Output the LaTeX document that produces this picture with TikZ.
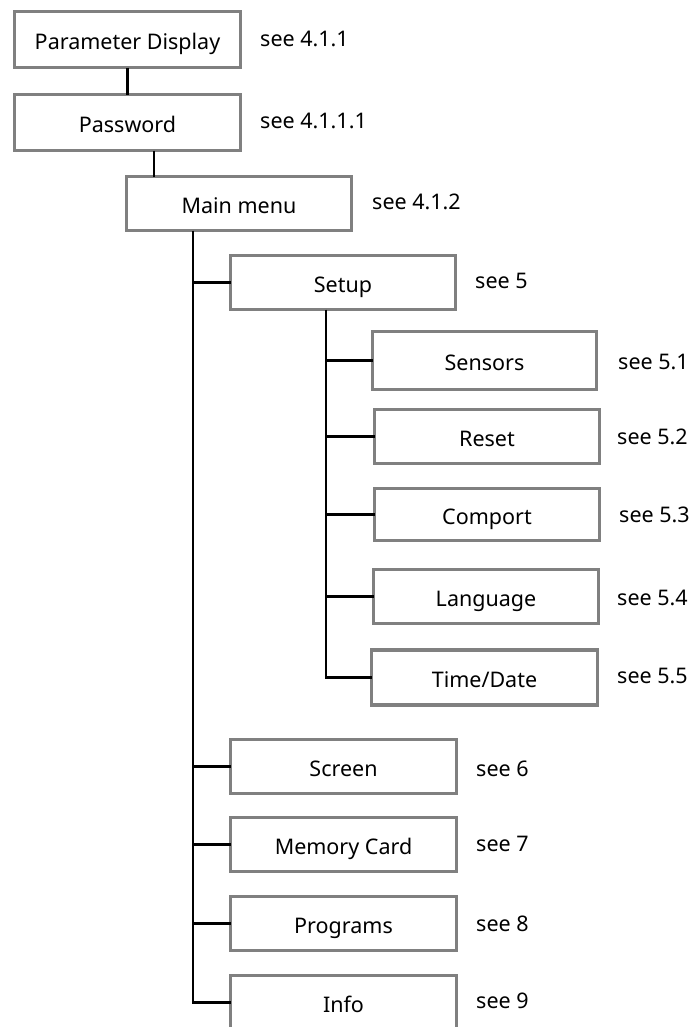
\documentclass[tikz,border=0pt]{standalone}
\usepackage{fontspec}
\setmainfont{Noto Sans}
\begin{document}
\begin{tikzpicture}[x=1bp,y=-1bp,
  box/.style={draw=boxgray,line width=3.2bp,fill=white,outer sep=0pt,inner sep=0pt,
    minimum width=#1,minimum height=54bp,text height=20bp,text depth=0bp,
    font=\fontsize{21.5bp}{25bp}\selectfont},
  box/.default=226bp,
  lbl/.style={anchor=base west,inner sep=0pt,font=\fontsize{21.5bp}{25bp}\selectfont},
  conn/.style={draw=black,line width=2.2bp}]
\definecolor{boxgray}{HTML}{808080}
\useasboundingbox (0,0) rectangle (691,1027);
\clip (0,0) rectangle (691,1027);
% boxes
\node[box, minimum height=56bp] (pd) at (127.5,39.5) {Parameter Display};
\node[box, minimum height=56bp] (pw) at (127.5,122.5) {Password};
\node[box=225bp] (mm) at (239,203.5) {Main menu};
\node[box=225bp] (setup) at (343,282.5) {Setup};
\node[box=224bp, minimum height=58bp] (sensors) at (484.5,360.5) {Sensors};
\node[box=225bp] (reset) at (487,436.5) {Reset};
\node[box=225bp, minimum height=52bp] (comport) at (487,514.5) {Comport};
\node[box=225bp] (language) at (486,596.5) {Language};
\node[box, minimum height=55bp] (timedate) at (484.5,677.5) {Time/Date};
\node[box] (screen) at (343.5,766.5) {Screen};
\node[box] (memory) at (343.5,844.5) {Memory Card};
\node[box] (programs) at (343.5,923.5) {Programs};
\node[box] (info) at (343.5,1002.5) {Info};
% labels
\node[lbl] (l1) at (260,46) {see 4.1.1};
\node[lbl] (l2) at (260,128) {see 4.1.1.1};
\node[lbl] (l3) at (372,209) {see 4.1.2};
\node[lbl] (l4) at (475,288) {see 5};
\node[lbl] (l5) at (618,369) {see 5.1};
\node[lbl] (l6) at (617,444) {see 5.2};
\node[lbl] (l7) at (619,522) {see 5.3};
\node[lbl] (l8) at (617,605) {see 5.4};
\node[lbl] (l9) at (617,683) {see 5.5};
\node[lbl] (l10) at (476,776) {see 6};
\node[lbl] (l11) at (476,851) {see 7};
\node[lbl] (l12) at (476,931) {see 8};
\node[lbl] (l13) at (476,1008) {see 9};
% connectors
\draw[conn] (pd.south) -- (pw.north);
\draw[conn] ([xshift=26.5bp]pw.south) coordinate (a) -- (a |- mm.north);
\coordinate (t1) at ([xshift=-46bp]mm.south);
\draw[conn] (t1) |- (info.west);
\foreach \n in {setup,screen,memory,programs}
  \draw[conn] (t1 |- \n.west) -- (\n.west);
\coordinate (t2) at ([xshift=-17bp]setup.south);
\draw[conn] (t2) |- (timedate.west);
\foreach \n in {sensors,reset,comport,language}
  \draw[conn] (t2 |- \n.west) -- (\n.west);
\end{tikzpicture}
\end{document}
